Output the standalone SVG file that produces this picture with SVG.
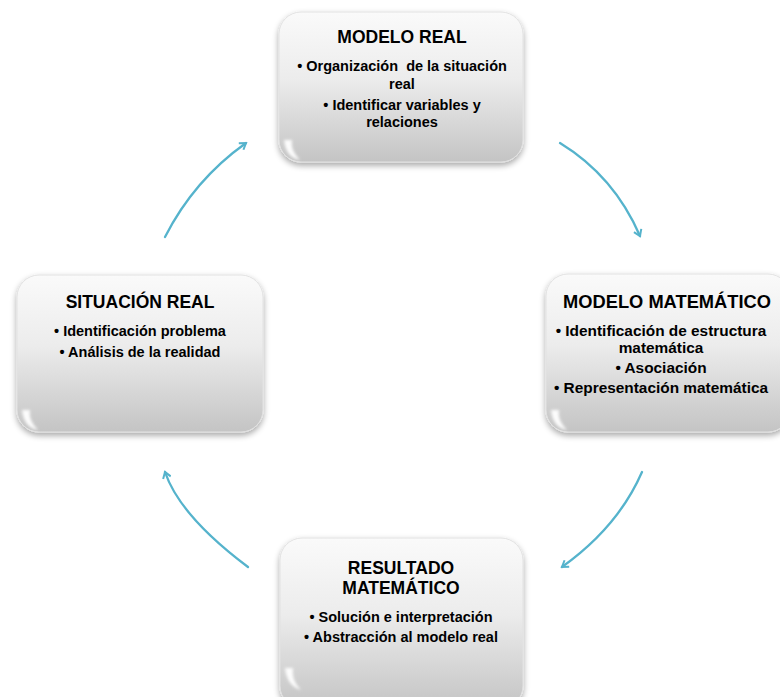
<svg xmlns="http://www.w3.org/2000/svg" width="780" height="697" viewBox="0 0 780 697">
<defs>
<linearGradient id="boxg" x1="0" y1="0" x2="0" y2="1">
<stop offset="0" stop-color="#fafafa"/>
<stop offset="0.45" stop-color="#ececec"/>
<stop offset="1" stop-color="#c4c4c4"/>
</linearGradient>
<filter id="sh" x="-10%" y="-10%" width="120%" height="125%">
<feGaussianBlur in="SourceAlpha" stdDeviation="3"/>
<feOffset dx="0" dy="3" result="b"/>
<feComponentTransfer><feFuncA type="linear" slope="0.35"/></feComponentTransfer>
<feMerge><feMergeNode/><feMergeNode in="SourceGraphic"/></feMerge>
</filter>
<filter id="soft" x="-20%" y="-20%" width="140%" height="140%">
<feGaussianBlur stdDeviation="0.6"/>
</filter>
<filter id="hl" x="-50%" y="-50%" width="200%" height="200%">
<feGaussianBlur stdDeviation="1.5"/>
</filter>
<marker id="ah" markerWidth="10" markerHeight="10" refX="7" refY="5" orient="auto" markerUnits="userSpaceOnUse">
<path d="M1,1 L7,5 L1,9" fill="none" stroke="#55b3cc" stroke-width="2"/>
</marker>
</defs>
<style>
.box{fill:url(#boxg);stroke:#e2e2e2;stroke-width:1;filter:url(#sh)}
.hl{fill:#ffffff;opacity:0.95;filter:url(#hl)}
.t{font-family:"Liberation Sans",Arial,sans-serif;font-weight:bold;fill:#000;text-anchor:middle}
.ti{font-size:17.5px}
.bu{font-size:14.5px}
.bu2{font-size:15.4px}
.arr{fill:none;stroke:#55b3cc;stroke-width:2.3;stroke-linecap:round;marker-end:url(#ah);filter:url(#soft)}
</style>
<rect width="780" height="697" fill="#ffffff"/>
<g id="connectors">
<path class="arr" d="M165,237 Q194,180 246,143"/>
<path class="arr" d="M560,143 Q614,176 640,236"/>
<path class="arr" d="M642,472 Q618,527 562,567"/>
<path class="arr" d="M248,567 Q180,516 165,472"/>
</g>
<g id="modelo-real">
<rect class="box" x="279" y="12" width="244" height="150" rx="22"/>
<path class="hl" d="M284,140 Q286,158 300,160 Q290,150 292,140 Z"/>
<text class="t ti" x="402" y="43">MODELO REAL</text>
<text class="t bu" x="402" y="71" xml:space="preserve">• Organización  de la situación</text>
<text class="t bu" x="402" y="89">real</text>
<text class="t bu" x="402" y="110">• Identificar variables y</text>
<text class="t bu" x="402" y="127">relaciones</text>
</g>
<g id="modelo-matematico">
<rect class="box" x="546" y="274" width="244" height="158" rx="22"/>
<path class="hl" d="M551,410 Q553,428 567,430 Q557,420 559,410 Z"/>
<text class="t ti" x="667" y="308" style="font-size:18.3px">MODELO MATEMÁTICO</text>
<text class="t bu2" x="661" y="336">• Identificación de estructura</text>
<text class="t bu2" x="661" y="353">matemática</text>
<text class="t bu2" x="661" y="373">• Asociación</text>
<text class="t bu2" x="661" y="393">• Representación matemática</text>
</g>
<g id="situacion-real">
<rect class="box" x="17" y="275" width="246" height="157" rx="22"/>
<path class="hl" d="M22,410 Q24,428 38,430 Q28,420 30,410 Z"/>
<text class="t ti" x="140" y="308">SITUACIÓN REAL</text>
<text class="t bu" x="140" y="336">• Identificación problema</text>
<text class="t bu" x="140" y="357">• Análisis de la realidad</text>
</g>
<g id="resultado-matematico">
<rect class="box" x="280" y="538" width="243" height="170" rx="22"/>
<path class="hl" d="M285,668 Q287,686 301,690 Q291,680 293,668 Z"/>
<text class="t ti" x="401" y="574">RESULTADO</text>
<text class="t ti" x="401" y="594">MATEMÁTICO</text>
<text class="t bu" x="401" y="622">• Solución e interpretación</text>
<text class="t bu" x="401" y="642">• Abstracción al modelo real</text>
</g>
</svg>
